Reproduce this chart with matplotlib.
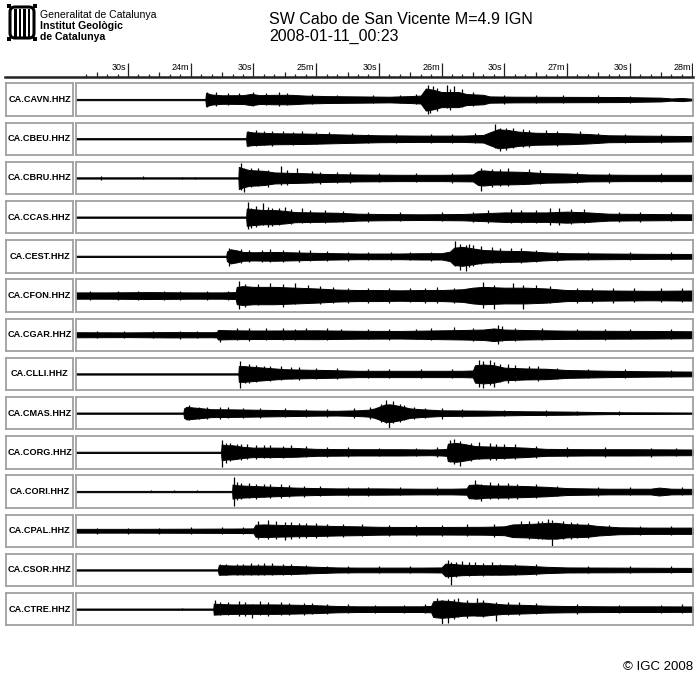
import matplotlib
matplotlib.use('Agg')
import matplotlib.pyplot as plt
from matplotlib.lines import Line2D
from matplotlib.patches import Rectangle, FancyBboxPatch

plt.rcParams['font.family'] = ['Liberation Sans', 'DejaVu Sans']

# ---------------- data (seconds after 00:23:00, amplitude as fraction of half-panel) -------------
stations = ['CA.CAVN.HHZ', 'CA.CBEU.HHZ', 'CA.CBRU.HHZ', 'CA.CCAS.HHZ', 'CA.CEST.HHZ',
            'CA.CFON.HHZ', 'CA.CGAR.HHZ', 'CA.CLLI.HHZ', 'CA.CMAS.HHZ', 'CA.CORG.HHZ',
            'CA.CORI.HHZ', 'CA.CPAL.HHZ', 'CA.CSOR.HHZ', 'CA.CTRE.HHZ']

cavn_t = [5, 67, 67.3, 70, 75, 85, 89, 93, 100, 108, 115, 125, 140, 155, 165, 170, 172.5, 176, 180, 188, 192, 200, 203, 215, 240, 265, 285, 290, 295, 300.3]
cavn_a = [.04, .04, .42, .32, .27, .28, .36, .28, .3, .3, .25, .22, .2, .18, .22, .25, .7, .62, .48, .48, .35, .3, .2, .18, .17, .16, .12, .07, .1, .05]
cavn_s = [(68, .5, .45), (173.5, .95, .9), (176, .85, .6), (182.5, .95, .55), (186, .88, .5), (190, .7, .45), (174.5, .6, .85),
          (72, .45, .4), (78, .4, .35), (83, .42, .3), (90, .45, .4), (96, .4, .35), (102, .45, .38), (106, .42, .35),
          (118, .35, .3), (130, .32, .25), (147, .3, .25), (160, .3, .25), (168, .35, .3), (178, .75, .7), (184, .7, .65),
          (195, .45, .4), (210, .3, .28), (225, .28, .25), (238, .3, .2), (255, .28, .22), (270, .25, .2)]

cbeu_t = [5, 86.5, 86.8, 90, 100, 115, 130, 150, 170, 190, 200, 203, 207, 212, 217, 225, 240, 250, 260, 275, 300.3]
cbeu_a = [.04, .04, .45, .4, .35, .33, .28, .22, .2, .2, .24, .4, .6, .55, .45, .38, .35, .3, .22, .2, .17]
cbeu_s = [(87.5, .5, .45), (205.5, .95, .6), (208, .7, .75), (211, .65, .7), (222, .55, .5), (230, .55, .35), (246, .5, .3),
          (91, .55, .45), (95, .5, .4), (99, .48, .45), (104, .5, .35), (109, .45, .4), (113, .5, .35), (120, .42, .35),
          (126, .4, .3), (137, .35, .3), (145, .32, .28), (158, .3, .25), (175, .3, .25), (185, .3, .25), (196, .35, .3),
          (214, .7, .6), (219, .6, .55), (235, .5, .45), (255, .35, .3), (268, .3, .28), (285, .28, .25)]

cbru_t = [5, 82.8, 83, 85, 88, 95, 100, 108, 115, 125, 140, 160, 180, 195, 197.5, 200, 205, 215, 220, 230, 240, 250, 270, 300.3]
cbru_a = [.04, .04, .7, .6, .5, .45, .35, .32, .3, .25, .22, .2, .2, .22, .45, .48, .42, .4, .38, .3, .28, .22, .2, .2]
cbru_s = [(17, .15, .1), (37, .1, .08), (56, .08, .06), (62, .08, .06), (84, .95, .75), (85.5, .6, .9), (89, .65, .55),
          (103, .75, .45), (111, .6, .3), (199, .65, .85), (204, .55, .6), (212, .6, .5), (222, .55, .4),
          (92, .6, .5), (97, .5, .55), (106, .5, .45), (118, .45, .35), (122, .4, .4), (130, .38, .3), (136, .35, .3),
          (150, .32, .28), (168, .32, .28), (185, .32, .3), (208, .55, .5), (227, .5, .4), (245, .4, .35), (260, .32, .3), (285, .3, .28)]

ccas_t = [5, 86.5, 86.8, 90, 95, 100, 105, 110, 120, 130, 140, 150, 170, 190, 200, 210, 220, 230, 240, 250, 260, 280, 300.3]
ccas_a = [.04, .04, .55, .5, .45, .45, .4, .32, .3, .28, .22, .2, .18, .2, .25, .3, .3, .3, .35, .3, .22, .2, .18]
ccas_s = [(87.5, .95, .75), (91, .7, .6), (94.5, .9, .5), (99, .6, .55), (105, .65, .35), (113, .6, .4), (202, .45, .35),
          (213, .5, .35), (232, .55, .5), (236, .6, .5), (248, .5, .35),
          (89, .6, .7), (97, .65, .6), (102, .55, .5), (108, .5, .45), (117, .45, .4), (124, .45, .35), (133, .38, .3),
          (145, .32, .28), (160, .3, .25), (180, .3, .25), (195, .35, .3), (218, .45, .4), (225, .45, .4), (242, .5, .45),
          (265, .35, .3), (275, .3, .28), (290, .3, .25)]

cest_t = [5, 77, 77.3, 79, 82, 85, 90, 100, 110, 120, 130, 140, 150, 160, 170, 180, 184, 186, 190, 195, 200, 210, 220, 230, 240, 260, 280, 300.3]
cest_a = [.04, .04, .3, .45, .38, .28, .26, .28, .25, .22, .2, .18, .18, .18, .2, .2, .3, .55, .6, .5, .4, .35, .33, .25, .2, .18, .16, .15]
cest_s = [(78.5, .5, .6), (186.5, .95, .6), (189, .8, .85), (191.5, .75, .9), (195, .7, .6), (199, .65, .5), (204, .6, .4), (213, .55, .35),
          (84, .45, .4), (88, .4, .35), (94, .42, .38), (98, .45, .35), (104, .42, .35), (112, .4, .35), (117, .38, .3),
          (125, .35, .3), (135, .3, .28), (145, .3, .25), (156, .28, .25), (165, .3, .25), (175, .3, .28), (193, .8, .7),
          (208, .55, .45), (218, .5, .4), (225, .4, .35), (235, .35, .3), (250, .3, .25), (270, .28, .25), (290, .25, .22)]

cfon_t = [5, 20, 40, 60, 75, 81.5, 82, 85, 90, 100, 110, 120, 130, 140, 150, 160, 170, 180, 190, 195, 200, 210, 220, 230, 240, 260, 280, 300.3]
cfon_a = [.2, .2, .22, .2, .2, .22, .55, .6, .55, .55, .5, .45, .38, .35, .35, .33, .35, .35, .4, .5, .55, .5, .5, .45, .35, .32, .3, .32]
cfon_s = [(83, .9, .85), (86, .75, .7), (92, .75, .6), (98, .8, .55), (104, .75, .7), (110, .8, .55), (116, .65, .5), (122, .6, .55),
          (165, .5, .4), (200, .85, .8), (205, .7, .85), (214, .8, .5), (219, .7, .85), (225, .65, .45),
          (12, .3, .28), (25, .32, .28), (35, .3, .3), (47, .32, .28), (55, .3, .28), (68, .3, .3), (78, .3, .28),
          (128, .55, .5), (135, .5, .45), (145, .5, .45), (155, .5, .5), (172, .5, .45), (178, .55, .5), (186, .5, .45),
          (232, .6, .5), (245, .5, .45), (252, .5, .5), (262, .45, .45), (272, .48, .4), (285, .45, .42), (295, .45, .4)]

cgar_t = [5, 30, 50, 70, 72.5, 73, 80, 90, 100, 120, 140, 160, 180, 190, 200, 205, 210, 220, 240, 260, 280, 300.3]
cgar_a = [.16, .15, .17, .16, .17, .3, .28, .27, .27, .28, .25, .24, .28, .3, .33, .4, .33, .3, .26, .25, .24, .22]
cgar_s = [(74, .3, .45), (96, .4, .35), (115, .4, .3), (186, .5, .3), (207, .6, .6), (209, .55, .4), (195, .45, .4),
          (15, .25, .22), (28, .25, .22), (42, .25, .22), (55, .26, .24), (63, .25, .22), (82, .4, .35), (88, .4, .38),
          (104, .4, .35), (110, .38, .35), (125, .4, .35), (132, .38, .3), (145, .35, .3), (155, .35, .32), (168, .38, .3),
          (175, .4, .35), (215, .45, .4), (228, .4, .35), (245, .38, .3), (258, .35, .32), (270, .35, .3), (290, .35, .3)]

clli_t = [5, 82.8, 83, 85, 90, 95, 100, 105, 115, 125, 140, 160, 180, 190, 195, 196, 200, 205, 210, 220, 230, 240, 260, 280, 300.3]
clli_a = [.04, .04, .5, .5, .45, .4, .35, .3, .27, .25, .2, .2, .2, .2, .22, .55, .6, .55, .4, .35, .33, .25, .2, .17, .15]
clli_s = [(83.5, .85, .9), (86, .5, .55), (95, .5, .4), (198, .9, .85), (200, .85, .9), (203, .9, .7), (205, .75, .85),
          (208, .6, .5), (215, .55, .45), (222, .5, .35),
          (88, .6, .55), (91, .55, .5), (98, .5, .45), (103, .48, .4), (108, .45, .35), (112, .42, .4), (120, .38, .3),
          (130, .35, .3), (145, .32, .28), (155, .3, .28), (170, .3, .25), (185, .3, .28), (212, .6, .55), (226, .5, .45),
          (235, .4, .35), (250, .32, .28), (268, .3, .25), (290, .25, .22)]

cmas_t = [5, 56.5, 56.8, 58, 62, 70, 80, 90, 100, 110, 120, 130, 140, 145, 148, 150, 153, 156, 160, 165, 170, 180, 200, 220, 240, 250, 260, 280, 300.3]
cmas_a = [.04, .04, .3, .4, .35, .25, .24, .22, .2, .18, .16, .15, .18, .22, .3, .4, .55, .55, .45, .3, .25, .18, .16, .12, .1, .08, .06, .05, .04]
cmas_s = [(153.5, .85, .6), (155, .6, .95), (157, .75, .65), (160, .6, .55), (172, .35, .3), (180, .3, .4),
          (59, .5, .45), (64, .42, .4), (68, .4, .35), (74, .38, .35), (78, .4, .3), (85, .35, .32), (93, .32, .3),
          (105, .3, .25), (115, .28, .22), (125, .25, .22), (138, .3, .28), (146, .4, .35), (151, .6, .55), (162, .5, .45),
          (167, .4, .35), (190, .25, .22), (210, .22, .2), (230, .2, .15), (245, .15, .12), (265, .12, .1)]

corg_t = [5, 74.5, 74.8, 77, 80, 85, 90, 100, 110, 120, 140, 160, 175, 180, 182.5, 183, 187, 192, 196, 200, 210, 220, 230, 250, 270, 300.3]
corg_a = [.04, .04, .5, .45, .45, .35, .3, .3, .28, .22, .2, .2, .18, .2, .22, .55, .6, .5, .4, .38, .35, .3, .22, .2, .2, .18]
corg_s = [(75, .8, .9), (77, .6, .7), (82, .5, .45), (87, .5, .4), (95, .45, .35), (184, .8, .6), (186, .85, .75), (189, .7, .85),
          (194, .6, .55), (198, .65, .45), (203, .6, .5), (210, .55, .45),
          (79, .6, .55), (84, .5, .5), (91, .45, .4), (98, .45, .38), (104, .42, .35), (108, .45, .3), (115, .4, .32),
          (125, .35, .3), (135, .32, .28), (150, .3, .25), (168, .3, .25), (178, .32, .28), (206, .55, .5), (215, .5, .45),
          (225, .4, .35), (240, .35, .3), (258, .32, .28), (280, .3, .28), (292, .3, .25)]

cori_t = [5, 79.8, 80, 82, 85, 90, 100, 110, 120, 130, 150, 170, 185, 192, 193, 197, 200, 205, 210, 220, 230, 240, 250, 260, 280, 284, 290, 300.3]
cori_a = [.04, .04, .45, .4, .38, .35, .3, .25, .22, .2, .2, .18, .18, .2, .42, .45, .4, .38, .38, .35, .3, .22, .2, .18, .18, .25, .18, .17]
cori_s = [(41, .08, .06), (52, .08, .06), (63, .08, .06), (74, .06, .05), (80.5, .95, .9), (82, .6, .55), (88, .55, .4), (95, .5, .35),
          (196, .75, .5), (199, .5, .6), (203, .6, .5), (212, .55, .45),
          (84, .55, .5), (91, .5, .45), (98, .5, .4), (103, .45, .38), (107, .42, .35), (114, .38, .32), (122, .35, .3),
          (135, .32, .28), (145, .3, .28), (160, .3, .25), (178, .3, .25), (207, .55, .5), (216, .5, .45), (225, .45, .4),
          (235, .35, .3), (255, .3, .28), (270, .3, .25), (295, .28, .25)]

cpal_t = [5, 30, 60, 80, 90, 91, 95, 100, 110, 120, 130, 140, 150, 160, 180, 200, 210, 214, 220, 225, 230, 235, 240, 250, 255, 265, 280, 300.3]
cpal_a = [.12, .12, .13, .14, .15, .38, .4, .38, .35, .33, .3, .28, .25, .24, .24, .25, .28, .4, .42, .45, .5, .5, .42, .38, .3, .22, .2, .2]
cpal_s = [(92, .6, .5), (97, .65, .55), (101, .6, .5), (105, .55, .6), (115, .5, .45), (218, .6, .4), (226, .6, .5), (231, .75, .5),
          (233, .65, .95), (238, .6, .55), (245, .5, .45),
          (15, .2, .18), (30, .2, .18), (45, .2, .18), (60, .22, .2), (75, .22, .2), (85, .25, .22), (108, .55, .5),
          (112, .5, .45), (120, .5, .45), (125, .45, .4), (133, .42, .4), (142, .4, .35), (155, .38, .35), (168, .38, .32),
          (180, .38, .35), (192, .4, .35), (205, .4, .38), (222, .6, .55), (228, .62, .55), (242, .55, .5), (250, .5, .45),
          (260, .35, .3), (275, .32, .3), (290, .32, .28)]

csor_t = [5, 73, 73.4, 76, 80, 90, 100, 110, 120, 130, 140, 150, 160, 170, 180, 181.8, 185, 190, 200, 210, 220, 230, 240, 260, 280, 300.3]
csor_a = [.04, .04, .3, .3, .28, .28, .27, .25, .2, .16, .15, .15, .15, .15, .16, .4, .38, .33, .3, .3, .27, .2, .16, .15, .14, .13]
csor_s = [(74, .4, .35), (85, .4, .35), (95, .45, .3), (183, .6, .5), (184.5, .5, 1.0), (190, .55, .35), (196, .5, .35), (208, .4, .35),
          (77, .38, .35), (82, .4, .3), (89, .42, .35), (92, .4, .35), (99, .42, .35), (104, .38, .32), (108, .4, .3),
          (115, .32, .28), (125, .28, .22), (135, .25, .2), (150, .22, .2), (165, .22, .2), (187, .5, .45), (193, .5, .4),
          (200, .45, .4), (204, .5, .35), (215, .4, .35), (225, .35, .3), (250, .25, .2), (270, .22, .2), (290, .22, .18)]

ctre_t = [5, 70.8, 71, 75, 80, 90, 100, 110, 120, 130, 140, 150, 160, 170, 175, 176, 180, 185, 190, 195, 200, 205, 210, 220, 230, 240, 260, 280, 300.3]
ctre_a = [.04, .04, .35, .32, .3, .3, .3, .28, .25, .2, .18, .18, .18, .18, .2, .5, .55, .5, .42, .4, .42, .35, .3, .27, .22, .2, .18, .18, .17]
ctre_s = [(56, .06, .05), (71.5, .55, .3), (89.5, .3, .55), (178, .7, .5), (180, .6, .95), (183, .65, .9), (188, .7, .5),
          (197, .7, .45), (206, .45, .75), (212, .45, .4),
          (74, .45, .4), (78, .48, .4), (83, .5, .42), (86, .48, .45), (93, .5, .4), (97, .45, .42), (103, .48, .4),
          (107, .42, .35), (114, .4, .35), (118, .4, .3), (125, .32, .28), (135, .3, .25), (148, .28, .25), (162, .28, .25),
          (172, .3, .25), (186, .65, .6), (192, .6, .55), (200, .6, .5), (217, .45, .4), (225, .38, .32), (245, .3, .28),
          (265, .28, .25), (285, .28, .25), (295, .3, .25)]

traces = [(cavn_t, cavn_a, cavn_s), (cbeu_t, cbeu_a, cbeu_s), (cbru_t, cbru_a, cbru_s), (ccas_t, ccas_a, ccas_s),
          (cest_t, cest_a, cest_s), (cfon_t, cfon_a, cfon_s), (cgar_t, cgar_a, cgar_s), (clli_t, clli_a, clli_s),
          (cmas_t, cmas_a, cmas_s), (corg_t, corg_a, corg_s), (cori_t, cori_a, cori_s), (cpal_t, cpal_a, cpal_s),
          (csor_t, csor_a, csor_s), (ctre_t, ctre_a, ctre_s)]

major_ticks = [30, 60, 90, 120, 150, 180, 210, 240, 270, 300]
major_labels = ['30s', '24m', '30s', '25m', '30s', '26m', '30s', '27m', '30s', '28m']
T0, T1 = 5.1, 300.3

# ---------------- layout helpers -------------
W, H = 700, 683
fig = plt.figure(figsize=(7, 6.83), dpi=100)


def fbox(x, y, w, h):
    return [x / W, 1 - (y + h) / H, w / W, h / H]


# header logo
lax = fig.add_axes(fbox(7, 4, 30, 37))
lax.set_xlim(0, 30)
lax.set_ylim(0, 37)
lax.axis('off')
lax.add_patch(FancyBboxPatch((3, 3), 24, 31, boxstyle='round,pad=0,rounding_size=5',
                             fc='white', ec='black', lw=2.2))
for xs in [7, 11.5, 16, 20.5]:
    lax.add_patch(Rectangle((xs, 4.5), 2.8, 28, fc='black', ec='none'))
for cx, cy in [(2, 2), (28, 2), (2, 35), (28, 35)]:
    lax.add_patch(Rectangle((cx - 2, cy - 2), 4, 4, fc='black', ec='none'))

fig.text(40 / W, 1 - 15 / H, 'Generalitat de Catalunya', fontsize=7.6, va='center', ha='left')
fig.text(40 / W, 1 - 26 / H, 'Institut Geològic', fontsize=7.6, fontweight='bold', va='center', ha='left')
fig.text(40 / W, 1 - 37 / H, 'de Catalunya', fontsize=7.6, fontweight='bold', va='center', ha='left')

fig.text(269 / W, 1 - 19 / H, 'SW Cabo de San Vicente M=4.9 IGN', fontsize=11.5, va='center', ha='left')
fig.text(269 / W, 1 - 36 / H, '2008-01-11_00:23', fontsize=11.5, va='center', ha='left')
fig.text(693 / W, 1 - 667 / H, '© IGC 2008', fontsize=9.5, va='center', ha='right')

# time axis
tax = fig.add_axes(fbox(76, 55, 617, 22))
tax.set_xlim(T0, T1)
tax.set_ylim(0, 22)
tax.axis('off')
minor = [t for t in range(10, 301, 5) if t % 30 != 0]
minor_short = [t for t in minor if t % 15 != 0]
minor_mid = [t for t in minor if t % 15 == 0]
tax.vlines(minor_short, 0, 3.5, color='#222', lw=0.9)
tax.vlines(minor_mid, 0, 5.5, color='#222', lw=0.9)
tax.vlines(major_ticks, 0, 14, color='#222', lw=0.9)
for t, lab in zip(major_ticks, major_labels):
    tax.text(t - 0.8, 14, lab, fontsize=6.5, ha='right', va='top')
fig.add_artist(Line2D([5 / W, 693 / W], [1 - 77 / H, 1 - 77 / H], color='#222', lw=1.8))

# panels
for i, (name, (tt, aa, ss)) in enumerate(zip(stations, traces)):
    top = 83.3 + i * 39.2
    hgt = 32.5
    bax = fig.add_axes(fbox(6, top, 67, hgt))
    bax.set_xticks([])
    bax.set_yticks([])
    for sp in bax.spines.values():
        sp.set_color('#a0a0a0')
        sp.set_linewidth(1.3)
    bax.text(0.5, 0.5, name, transform=bax.transAxes, fontsize=6.6, fontweight='bold',
             ha='center', va='center')

    ax = fig.add_axes(fbox(76, top, 617, hgt))
    ax.set_xlim(T0, T1)
    ax.set_ylim(-1.03, 1.03)
    ax.set_xticks([])
    ax.set_yticks([])
    for sp in ax.spines.values():
        sp.set_color('#a0a0a0')
        sp.set_linewidth(1.3)
    neg = [-a for a in aa]
    ax.fill_between(tt, neg, aa, color='black', lw=0.7)
    st = [s[0] for s in ss]
    up = [s[1] for s in ss]
    dn = [-s[2] for s in ss]
    ax.vlines(st, dn, up, color='black', lw=0.9)

fig.savefig('out.png', dpi=100)
